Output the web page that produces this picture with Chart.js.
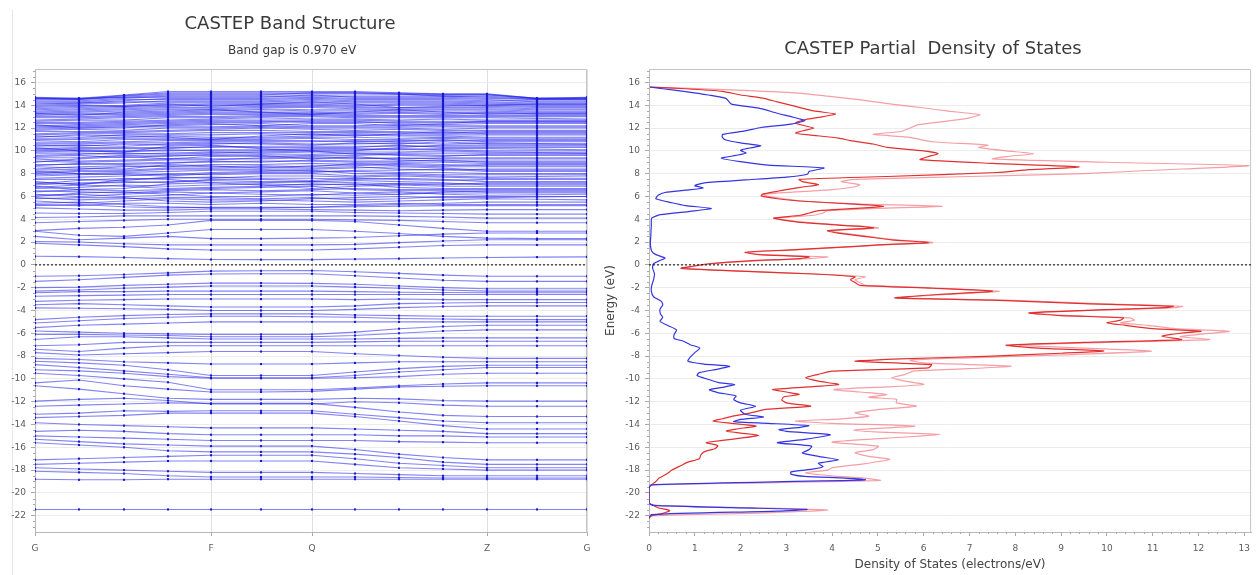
<!DOCTYPE html>
<html>
<head>
<meta charset="utf-8">
<script src="https://cdn.jsdelivr.net/npm/chart.js@4.4.0/dist/chart.umd.min.js"></script>
<style>
  html, body { margin: 0; padding: 0; background: #fff; }
  body { width: 1257px; height: 575px; position: relative; overflow: hidden; font-family: "DejaVu Sans", sans-serif; color: #3a3a3a; }
  canvas { position: absolute; top: 0; }
  #bands { left: 0; }
  #dos { left: 600px; }
  .ttl { position: absolute; transform: translate(-50%, -50%); white-space: pre; }
  .frame { position: absolute; left: 12px; top: 10px; bottom: 0; border-left: 1px solid #e6e6e6; }
</style>
</head>
<body>
<div class="frame"></div>
<canvas id="bands" width="600" height="575"></canvas>
<canvas id="dos" width="657" height="575"></canvas>
<div class="ttl" style="left:290px;top:22px;font-size:18px;">CASTEP Band Structure</div>
<div class="ttl" style="left:292px;top:50px;font-size:12px;">Band gap is 0.970 eV</div>
<div class="ttl" style="left:933px;top:47px;font-size:18px;">CASTEP Partial  Density of States</div>
<script>
/* k-path and band energies (eV) */
const kPath = [0, 0.44, 0.89, 1.33, 1.76, 2.26, 2.77, 3.20, 3.64, 4.08, 4.52, 5.02, 5.52];
const kLabels = ['G', 'F', 'Q', 'Z', 'G'];
const kLabelPos = [0, 1.76, 2.77, 4.52, 5.52];
const energyTicks = [-22, -20, -18, -16, -14, -12, -10, -8, -6, -4, -2, 0, 2, 4, 6, 8, 10, 12, 14, 16];
const dosTicks = [0, 1, 2, 3, 4, 5, 6, 7, 8, 9, 10, 11, 12, 13];
const fermiLevel = 0;

const valenceBands = [
  [-1.0,-0.95,-0.85,-0.7,-0.55,-0.52,-0.5,-0.6,-0.75,-0.9,-1.0,-1.0,-1.0],
  [-1.45,-1.3,-1.1,-0.9,-0.8,-0.78,-0.78,-0.95,-1.15,-1.35,-1.45,-1.45,-1.45],
  [-2.0,-1.95,-1.8,-1.7,-1.6,-1.6,-1.62,-1.7,-1.85,-2.0,-2.1,-2.1,-2.1],
  [-2.3,-2.2,-2.05,-1.95,-1.85,-1.85,-1.85,-1.95,-2.05,-2.2,-2.3,-2.3,-2.3],
  [-2.45,-2.35,-2.35,-2.3,-2.3,-2.3,-2.3,-2.35,-2.4,-2.42,-2.45,-2.45,-2.45],
  [-2.75,-2.7,-2.65,-2.6,-2.6,-2.6,-2.6,-2.6,-2.6,-2.6,-2.6,-2.6,-2.6],
  [-3.2,-3.1,-3.05,-3.0,-3.0,-3.0,-3.0,-3.05,-3.0,-3.05,-3.05,-3.05,-3.05],
  [-3.5,-3.4,-3.5,-3.6,-3.7,-3.7,-3.7,-3.6,-3.4,-3.35,-3.3,-3.3,-3.3],
  [-3.77,-3.8,-3.85,-3.9,-4.0,-4.0,-4.0,-3.9,-3.75,-3.65,-3.6,-3.6,-3.6],
  [-4.8,-4.6,-4.45,-4.35,-4.3,-4.3,-4.3,-4.4,-4.45,-4.5,-4.5,-4.5,-4.5],
  [-5.1,-4.9,-4.7,-4.6,-4.5,-4.5,-4.55,-4.6,-4.7,-4.75,-4.8,-4.8,-4.8],
  [-5.5,-5.3,-5.2,-5.1,-5.0,-5.0,-5.0,-5.0,-5.0,-5.0,-5.0,-5.0,-5.0],
  [-5.8,-5.9,-6.0,-6.05,-6.1,-6.1,-6.1,-5.9,-5.6,-5.4,-5.3,-5.3,-5.3],
  [-6.1,-6.1,-6.15,-6.2,-6.3,-6.3,-6.3,-6.2,-6.0,-5.8,-5.7,-5.7,-5.7],
  [-6.55,-6.3,-6.3,-6.4,-6.5,-6.5,-6.5,-6.5,-6.45,-6.4,-6.4,-6.4,-6.4],
  [-7.1,-7.0,-6.8,-6.8,-6.8,-6.8,-6.8,-6.75,-6.7,-6.7,-6.7,-6.7,-6.7],
  [-7.4,-7.6,-7.3,-7.1,-7.1,-7.1,-7.1,-7.1,-7.1,-7.1,-7.1,-7.1,-7.1],
  [-7.7,-7.9,-7.8,-7.7,-7.6,-7.6,-7.6,-7.8,-7.95,-8.1,-8.2,-8.2,-8.2],
  [-8.2,-8.3,-8.5,-8.6,-8.7,-8.7,-8.7,-8.6,-8.5,-8.5,-8.5,-8.5,-8.5],
  [-8.45,-8.6,-8.8,-9.2,-9.7,-9.7,-9.7,-9.4,-9.1,-8.9,-8.8,-8.8,-8.8],
  [-8.75,-9.0,-9.3,-9.6,-9.9,-9.9,-9.9,-9.7,-9.4,-9.2,-9.0,-9.0,-9.0],
  [-9.2,-9.3,-9.5,-9.8,-9.95,-9.95,-9.95,-9.9,-9.8,-9.6,-9.5,-9.5,-9.5],
  [-9.5,-9.7,-10.0,-10.3,-10.95,-10.95,-10.95,-10.8,-10.6,-10.45,-10.35,-10.35,-10.35],
  [-10.35,-10.1,-10.6,-10.9,-11.15,-11.15,-11.1,-10.9,-10.7,-10.65,-10.6,-10.6,-10.6],
  [-10.6,-10.9,-11.3,-11.7,-11.8,-11.8,-11.8,-11.7,-11.75,-11.9,-11.95,-11.95,-11.95],
  [-11.95,-11.8,-11.7,-11.9,-12.2,-12.2,-12.2,-12.0,-12.1,-12.3,-12.4,-12.4,-12.4],
  [-12.4,-12.3,-12.2,-12.1,-12.15,-12.15,-12.15,-12.5,-12.9,-13.2,-13.3,-13.3,-13.3],
  [-13.1,-13.0,-12.8,-12.85,-12.8,-12.8,-12.8,-13.1,-13.4,-13.7,-13.85,-13.85,-13.85],
  [-13.4,-13.3,-13.2,-13.0,-13.0,-13.0,-13.0,-13.3,-13.7,-14.1,-14.4,-14.4,-14.4],
  [-13.85,-14.0,-14.1,-14.2,-14.3,-14.3,-14.3,-14.4,-14.5,-14.6,-14.8,-14.8,-14.8],
  [-14.6,-14.5,-14.6,-14.8,-14.9,-14.9,-14.9,-14.9,-15.0,-15.0,-15.1,-15.1,-15.1],
  [-15.0,-15.1,-15.2,-15.3,-15.4,-15.4,-15.4,-15.4,-15.5,-15.55,-15.6,-15.6,-15.6],
  [-15.3,-15.5,-15.7,-15.8,-15.9,-15.9,-15.9,-16.2,-16.6,-16.9,-17.1,-17.1,-17.1],
  [-15.6,-15.8,-16.0,-16.3,-16.4,-16.4,-16.4,-16.6,-16.9,-17.3,-17.5,-17.5,-17.5],
  [-17.1,-17.0,-16.9,-16.8,-16.7,-16.7,-16.7,-17.0,-17.4,-17.6,-17.8,-17.8,-17.8],
  [-17.5,-17.4,-17.3,-17.2,-17.2,-17.2,-17.2,-17.5,-17.8,-17.9,-18.0,-18.0,-18.0],
  [-17.8,-17.9,-18.0,-18.1,-18.2,-18.2,-18.2,-18.3,-18.4,-18.5,-18.5,-18.5,-18.5],
  [-18.1,-18.2,-18.3,-18.5,-18.6,-18.6,-18.6,-18.6,-18.65,-18.7,-18.7,-18.7,-18.7],
  [-18.8,-18.85,-18.85,-18.8,-18.8,-18.8,-18.8,-18.8,-18.8,-18.8,-18.8,-18.8,-18.8],
  [-21.45,-21.45,-21.45,-21.45,-21.45,-21.45,-21.45,-21.45,-21.45,-21.45,-21.45,-21.45,-21.45]
];

const conductionBands = [
  [0.75,0.72,0.65,0.55,0.47,0.46,0.46,0.5,0.55,0.6,0.65,0.68,0.7],
  [1.9,1.75,1.6,1.4,1.3,1.3,1.3,1.4,1.55,1.7,1.75,1.75,1.75],
  [2.05,2.0,1.85,1.75,1.75,1.75,1.75,1.8,1.95,2.1,2.2,2.2,2.2],
  [2.5,2.2,2.35,2.5,2.3,2.3,2.35,2.4,2.55,2.7,2.8,2.8,2.8],
  [2.95,2.6,2.5,2.8,3.1,3.1,3.1,2.95,2.75,2.5,2.35,2.3,2.3],
  [3.0,3.2,3.3,3.5,3.9,3.9,3.9,3.8,3.5,3.2,2.95,2.95,2.95],
  [3.7,3.8,3.9,4.0,4.0,4.0,4.0,3.95,3.9,3.8,3.7,3.7,3.7],
  [4.15,4.2,4.3,4.3,4.3,4.3,4.3,4.3,4.25,4.2,4.1,4.1,4.1],
  [4.55,4.5,4.5,4.6,4.7,4.7,4.7,4.6,4.55,4.5,4.45,4.45,4.45],
  [5.0,4.9,4.8,4.8,4.9,4.9,4.85,4.8,4.75,4.8,4.85,4.85,4.85],
  [5.2,5.3,5.1,5.0,5.05,5.05,5.05,5.1,5.15,5.2,5.2,5.2,5.2],
  [5.3,5.2,5.4,5.4,5.3,5.4,5.3,5.3,5.4,5.3,5.3,5.3,5.3],
  [5.4,5.5,5.3,5.1,5.0,5.0,5.05,5.2,5.3,5.4,5.5,5.5,5.5],
  [5.6,5.4,5.6,5.8,5.7,5.7,5.6,5.5,5.6,5.7,5.8,5.75,5.7],
  [5.8,5.9,5.9,5.6,5.5,5.6,5.8,5.9,6.0,5.9,5.9,5.95,6.0],
  [5.9,5.7,5.8,5.9,5.9,5.8,5.9,5.7,5.8,6.0,6.0,6.0,6.0],
  [6.0,6.3,6.4,6.2,6.0,6.0,6.2,6.1,6.2,6.4,6.5,6.5,6.5],
  [6.1,6.2,6.0,6.1,6.3,6.4,6.5,6.3,6.2,6.3,6.3,6.3,6.3],
  [6.2,6.0,6.2,6.4,6.3,6.2,6.1,6.3,6.4,6.2,6.1,6.15,6.2],
  [6.4,6.6,6.5,6.6,6.7,6.8,6.9,6.6,6.5,6.5,6.4,6.4,6.4],
  [6.5,6.4,6.3,6.5,6.6,6.5,6.6,6.7,6.6,6.6,6.6,6.6,6.6],
  [6.7,6.8,7.0,6.9,7.0,7.1,7.0,7.1,6.8,6.7,6.7,6.7,6.7],
  [6.8,7.0,6.9,6.7,6.8,6.9,7.1,7.0,7.1,7.1,7.1,7.1,7.1],
  [6.9,6.6,6.7,7.1,7.2,7.0,6.7,6.9,7.0,6.9,6.9,6.9,6.9],
  [7.0,7.2,7.2,7.3,7.4,7.3,7.3,7.4,7.3,7.2,7.0,7.0,7.0],
  [7.1,7.4,7.6,7.5,7.2,7.2,7.3,7.2,7.1,7.0,7.2,7.2,7.2],
  [7.2,7.1,7.3,7.2,7.5,7.5,7.4,7.6,7.5,7.4,7.5,7.5,7.5],
  [7.3,7.0,7.5,7.6,7.7,7.6,7.6,7.5,7.6,7.5,7.3,7.3,7.3],
  [7.5,7.5,7.4,7.7,7.6,7.8,7.8,7.7,7.8,7.7,7.6,7.6,7.6],
  [7.6,7.7,7.8,8.0,7.9,8.0,8.0,7.8,7.9,7.8,7.7,7.75,7.8],
  [7.8,7.9,8.0,7.9,8.1,8.2,8.3,8.0,8.0,7.9,7.9,7.9,7.9],
  [7.9,8.0,8.1,8.2,8.3,8.3,8.2,8.2,8.1,8.1,8.0,8.0,8.0],
  [8.0,8.2,8.2,8.4,8.4,8.4,8.4,8.5,8.6,8.5,8.3,8.3,8.3],
  [8.1,8.3,8.3,8.5,8.5,8.6,8.5,8.6,8.4,8.3,8.4,8.4,8.4],
  [8.2,8.0,7.9,7.8,8.0,8.1,8.1,8.3,8.3,8.4,8.2,8.2,8.2],
  [8.3,8.4,8.6,8.7,8.6,8.7,8.6,8.9,8.8,8.7,8.8,8.8,8.8],
  [8.4,8.6,8.7,8.6,8.8,8.8,8.9,8.8,8.7,8.6,8.6,8.6,8.6],
  [8.6,8.5,8.4,8.8,8.7,8.5,8.7,8.7,8.9,8.8,8.7,8.7,8.7],
  [8.7,8.9,8.8,8.9,9.1,9.0,9.2,9.1,9.1,9.2,9.0,9.0,9.0],
  [8.8,8.8,8.9,9.0,9.0,9.1,9.1,9.0,9.0,9.0,8.9,8.9,8.9],
  [9.0,9.3,9.5,9.3,9.5,9.6,9.3,9.5,9.2,9.1,9.1,9.1,9.1],
  [9.1,9.0,9.1,9.2,9.2,9.4,9.5,9.4,9.3,9.4,9.4,9.4,9.4],
  [9.3,9.1,9.2,9.3,9.3,9.3,9.4,9.3,9.4,9.3,9.3,9.3,9.3],
  [9.4,9.4,9.6,9.5,9.7,9.7,9.7,9.8,9.6,9.5,9.7,9.7,9.7],
  [9.5,9.6,9.4,9.6,9.6,9.5,9.6,9.6,9.7,9.6,9.6,9.6,9.6],
  [9.6,9.7,9.8,9.7,9.8,9.9,10.0,9.7,9.8,9.8,9.8,9.8,9.8],
  [9.8,9.8,9.7,9.8,9.9,9.8,9.9,9.9,9.9,10.0,9.9,9.85,9.8],
  [9.9,10.0,9.9,10.1,10.0,10.0,10.1,10.1,10.2,10.1,10.0,10.0,10.0],
  [10.0,10.1,10.0,10.0,10.1,10.1,10.2,10.2,10.1,10.2,10.2,10.15,10.1],
  [10.1,10.2,10.2,10.2,10.4,10.3,10.3,10.3,10.5,10.3,10.3,10.3,10.3],
  [10.2,10.3,10.3,10.3,10.3,10.4,10.4,10.4,10.4,10.4,10.4,10.4,10.4],
  [10.3,10.0,9.9,10.4,10.5,10.2,10.0,10.0,10.3,10.5,10.5,10.5,10.5],
  [10.4,10.5,10.4,10.6,10.7,10.6,10.5,10.7,10.6,10.8,10.6,10.6,10.6],
  [10.5,10.4,10.6,10.5,10.6,10.7,10.6,10.6,10.7,10.6,10.7,10.65,10.6],
  [10.6,10.6,10.7,10.7,10.8,10.8,10.8,10.9,10.8,11.0,10.8,10.8,10.8],
  [10.7,10.7,10.8,10.9,10.9,10.9,10.9,10.8,10.9,10.9,10.9,10.9,10.9],
  [10.9,10.8,11.0,11.0,11.0,11.0,11.1,11.0,11.0,11.1,11.0,11.0,11.0],
  [11.0,11.0,11.1,11.1,11.1,11.1,11.2,11.2,11.1,11.2,11.1,11.1,11.1],
  [11.1,11.1,11.2,11.3,11.2,11.2,11.3,11.4,11.3,11.3,11.2,11.2,11.2],
  [11.2,11.4,11.3,11.2,11.0,11.3,11.5,11.3,11.5,11.7,11.5,11.5,11.5],
  [11.3,11.2,11.4,11.4,11.4,11.5,11.4,11.5,11.4,11.4,11.4,11.4,11.4],
  [11.4,11.5,11.5,11.5,11.6,11.6,11.6,11.6,11.6,11.5,11.6,11.6,11.6],
  [11.5,11.6,11.6,11.7,11.8,11.8,11.7,11.7,11.7,11.6,11.7,11.7,11.7],
  [11.7,11.7,11.7,11.8,11.9,12.0,11.9,11.8,11.9,11.8,11.8,11.8,11.8],
  [11.8,11.9,11.8,12.0,12.0,12.1,12.0,12.0,12.0,11.9,12.0,12.0,12.0],
  [11.9,12.0,12.1,12.1,12.1,12.2,12.1,12.1,12.1,12.1,12.1,12.1,12.1],
  [12.0,12.1,12.2,12.2,12.3,12.4,12.2,12.2,12.3,12.2,12.2,12.2,12.2],
  [12.1,12.2,12.3,12.4,12.5,12.5,12.6,12.6,12.4,12.3,12.4,12.4,12.4],
  [12.2,12.3,12.4,12.5,12.6,12.6,12.5,12.5,12.5,12.5,12.5,12.5,12.5],
  [12.3,12.0,12.0,12.3,12.4,12.2,12.4,12.4,12.2,12.4,12.6,12.6,12.6],
  [12.4,12.4,12.5,12.6,12.7,12.7,12.7,12.7,12.6,12.6,12.6,12.6,12.6],
  [12.5,12.5,12.6,12.7,12.8,12.9,12.8,12.8,12.7,12.8,12.7,12.7,12.7],
  [12.6,12.7,12.7,12.9,12.9,13.0,13.0,12.9,12.9,12.9,12.9,12.85,12.8],
  [12.7,12.8,12.9,13.0,13.0,13.1,13.1,13.0,13.0,13.0,13.0,13.0,13.0],
  [12.9,12.9,13.0,13.1,13.2,13.2,13.2,13.1,13.1,13.1,13.1,13.1,13.1],
  [13.0,13.0,13.1,13.2,13.3,13.3,13.3,13.2,13.3,13.2,13.3,13.2,13.2],
  [13.1,13.2,13.2,13.3,13.4,13.4,13.4,13.3,13.4,13.3,13.4,13.3,13.3],
  [13.2,13.3,13.3,13.4,13.5,13.6,13.5,13.5,13.5,13.5,13.5,13.4,13.4],
  [13.3,13.1,13.4,13.5,13.6,13.4,13.2,13.4,13.6,13.4,13.2,13.3,13.3],
  [13.3,13.4,13.5,13.6,13.6,13.7,13.6,13.6,13.6,13.6,13.6,13.5,13.5],
  [13.4,13.5,13.6,13.7,13.7,13.8,13.8,13.7,13.7,13.7,13.7,13.6,13.6],
  [13.5,13.6,13.7,13.8,13.8,13.9,13.9,13.8,13.8,13.8,13.8,13.7,13.7],
  [13.6,13.7,13.8,13.9,14.0,14.0,14.0,13.9,14.0,14.0,13.9,13.8,13.8],
  [13.7,13.8,13.9,14.0,14.1,14.1,14.1,14.0,14.1,14.1,14.0,13.9,13.9],
  [13.8,13.9,14.0,14.2,14.2,14.2,14.2,14.2,14.2,14.2,14.1,14.0,14.0],
  [13.9,14.0,13.9,14.1,13.9,14.1,14.3,14.1,13.8,13.9,14.0,14.1,14.1],
  [14.0,14.1,14.2,14.4,14.4,14.4,14.5,14.4,14.4,14.4,14.3,14.2,14.2],
  [14.1,14.2,14.3,14.3,14.3,14.3,14.4,14.3,14.3,14.3,14.2,14.1,14.1],
  [14.2,14.2,14.4,14.6,14.6,14.6,14.7,14.6,14.6,14.6,14.5,14.3,14.3],
  [14.3,14.3,14.5,14.5,14.5,14.5,14.6,14.5,14.5,14.5,14.4,14.4,14.4],
  [14.4,14.4,14.6,14.8,14.8,14.8,14.8,14.8,14.8,14.8,14.7,14.5,14.5],
  [14.5,14.5,14.7,14.7,14.7,14.7,14.9,14.7,14.7,14.7,14.6,14.5,14.5],
  [14.6,14.5,14.8,15.0,15.0,15.0,15.0,15.0,14.95,14.9,14.9,14.6,14.6],
  [14.6,14.6,14.7,14.9,14.9,14.9,15.1,15.1,15.0,14.8,14.8,14.55,14.6],
  [14.65,14.55,14.85,15.1,15.1,15.1,15.1,15.1,15.05,14.95,14.95,14.6,14.65],
  [14.7,14.6,14.9,15.2,15.2,15.2,15.2,15.2,15.1,15.0,15.0,14.6,14.7]
];

/* partial DOS: [energy eV, electrons/eV] */
const dosS = [
  [-22.2,0],[-21.9,0.05],[-21.6,2.8],[-21.45,3.45],[-21.3,1.8],[-21.1,0.1],[-20.9,0],[-19.6,0],
  [-19.3,0.05],[-19.05,2.5],[-18.85,4.72],[-18.7,4.3],[-18.55,3.4],[-18.35,3.1],[-18.15,3.1],
  [-17.9,3.6],[-17.7,3.8],[-17.4,3.7],[-17.1,4.14],[-16.8,3.7],[-16.5,3.35],[-16.2,3.5],[-15.9,3.55],
  [-15.6,2.8],[-15.3,3.4],[-14.9,3.96],[-14.6,3.0],[-14.45,2.84],[-14.25,3.3],[-14.1,3.49],[-13.9,2.6],
  [-13.75,1.85],[-13.55,2.0],[-13.35,2.5],[-13.1,2.1],[-12.75,2.0],[-12.4,2.33],[-12.1,2.0],[-11.8,1.85],
  [-11.5,1.9],[-11.2,1.5],[-10.95,1.32],[-10.75,1.6],[-10.5,1.87],[-10.3,1.5],[-10.05,1.3],[-9.7,1.05],
  [-9.45,1.1],[-9.15,1.5],[-8.9,1.76],[-8.7,1.2],[-8.45,0.85],[-8.1,0.9],[-7.7,1.0],[-7.3,1.11],
  [-7.0,0.9],[-6.7,0.75],[-6.45,0.55],[-6.1,0.55],[-5.7,0.6],[-5.3,0.4],[-4.95,0.24],[-4.6,0.3],
  [-4.3,0.25],[-3.9,0.24],[-3.5,0.3],[-3.2,0.27],[-2.8,0.1],[-2.3,0.05],[-1.8,0.06],[-1.3,0.1],
  [-0.8,0.12],[-0.3,0.08],[0.1,0.1],[0.4,0.25],[0.6,0.35],[0.9,0.15],[1.2,0.06],[1.8,0.03],
  [2.6,0.04],[3.5,0.05],[4.1,0.06],[4.4,0.25],[4.7,0.9],[4.95,1.36],[5.2,0.8],[5.45,0.5],
  [5.8,0.15],[6.1,0.2],[6.35,0.35],[6.55,0.8],[6.75,1.18],[6.95,1.0],[7.2,1.21],[7.45,2.1],
  [7.7,3.0],[7.95,3.46],[8.2,3.5],[8.5,3.82],[8.75,2.6],[9.05,2.0],[9.35,1.58],[9.6,1.9],
  [9.8,2.12],[10.05,2.0],[10.25,2.2],[10.45,2.44],[10.7,2.0],[10.95,1.68],[11.2,1.6],[11.45,1.61],
  [11.75,2.1],[12.05,2.45],[12.35,3.1],[12.65,3.4],[12.95,3.15],[13.3,2.8],[13.75,2.4],[14.1,1.8],
  [14.6,1.68],[14.9,1.3],[15.2,0.8],[15.45,0.3],[15.6,0.02]
];

const dosP = [
  [-22.2,0],[-22.0,0.05],[-21.8,0.3],[-21.55,0.45],[-21.3,0.2],[-21.0,0.05],[-20.9,0],[-19.5,0],
  [-19.3,0.05],[-19.0,0.15],[-18.7,0.22],[-18.3,0.4],[-18.0,0.5],[-17.6,0.7],[-17.3,0.85],[-17.0,1.1],
  [-16.7,1.13],[-16.4,1.2],[-16.1,1.45],[-15.85,1.5],[-15.6,1.25],[-15.4,1.6],[-15.2,2.0],[-14.96,2.4],
  [-14.75,2.0],[-14.58,1.69],[-14.4,1.9],[-14.14,2.34],[-13.9,1.8],[-13.7,1.4],[-13.5,1.6],[-13.27,1.83],
  [-13.0,2.2],[-12.68,2.55],[-12.39,3.53],[-12.1,3.0],[-11.85,2.9],[-11.57,2.95],[-11.37,3.28],[-11.15,3.0],
  [-10.93,2.7],[-10.7,3.5],[-10.49,4.14],[-10.2,3.7],[-9.91,3.42],[-9.6,3.7],[-9.32,4.0],[-9.03,6.1],
  [-8.75,6.17],[-8.45,4.5],[-8.25,5.5],[-8.0,7.5],[-7.75,9.0],[-7.55,9.93],[-7.3,8.5],[-7.04,7.8],
  [-6.8,9.5],[-6.55,11.63],[-6.26,11.2],[-6.0,11.6],[-5.82,12.06],[-5.6,11.0],[-5.3,10.4],[-5.09,10.0],
  [-4.85,10.3],[-4.65,10.36],[-4.45,9.0],[-4.21,8.3],[-3.95,9.8],[-3.75,11.3],[-3.63,11.45],[-3.4,9.5],
  [-3.1,7.5],[-2.9,5.37],[-2.6,6.3],[-2.31,7.5],[-2.05,6.2],[-1.8,4.6],[-1.55,4.5],[-1.3,4.4],
  [-1.05,4.5],[-0.8,3.6],[-0.55,2.0],[-0.3,0.7],[-0.15,0.9],[0.1,1.3],[0.35,2.2],[0.55,3.3],
  [0.7,3.5],[0.9,2.4],[1.1,2.1],[1.3,3.0],[1.55,4.2],[1.75,5.0],[1.95,6.1],[2.2,5.3],
  [2.5,4.7],[2.8,4.1],[3.0,3.9],[3.25,4.9],[3.45,4.3],[3.7,3.4],[3.95,2.9],[4.1,2.72],
  [4.35,3.3],[4.55,3.5],[4.75,3.7],[4.95,4.5],[5.14,5.12],[5.35,4.4],[5.6,3.3],[5.8,2.8],
  [6.05,2.45],[6.2,2.48],[6.45,2.8],[6.6,3.0],[6.85,3.4],[7.04,3.7],[7.3,3.35],[7.5,3.28],
  [7.75,5.2],[8.1,7.6],[8.35,8.3],[8.6,9.39],[8.9,7.5],[9.23,5.92],[9.5,6.1],[9.75,6.31],
  [10.0,6.0],[10.3,5.2],[10.6,4.9],[10.9,4.4],[11.12,4.14],[11.4,3.5],[11.56,3.2],[11.8,3.4],
  [12.0,3.6],[12.2,3.4],[12.44,3.2],[12.74,3.42],[13.0,3.8],[13.23,4.07],[13.5,3.6],[13.9,3.2],
  [14.3,2.8],[14.63,2.48],[14.9,2.0],[15.22,1.6],[15.45,0.8],[15.6,0.02]
];

const dosTotal = [
  [-22.2,0],[-22.0,0.1],[-21.75,2.5],[-21.5,3.9],[-21.3,2.2],[-21.1,0.2],[-20.9,0],[-19.5,0],
  [-19.3,0.1],[-19.1,2.8],[-18.9,5.05],[-18.7,4.7],[-18.5,4.0],[-18.24,3.42],[-18.0,3.9],[-17.79,4.0],
  [-17.5,4.6],[-17.06,5.26],[-16.8,4.8],[-16.48,4.5],[-16.2,4.9],[-15.9,5.01],[-15.54,4.0],[-15.2,5.2],
  [-14.87,6.35],[-14.7,5.2],[-14.5,4.47],[-14.3,5.2],[-14.14,5.8],[-13.9,4.0],[-13.7,3.2],[-13.5,4.2],
  [-13.27,4.8],[-12.97,4.5],[-12.7,5.0],[-12.39,5.84],[-12.1,5.4],[-11.8,5.41],[-11.6,4.8],[-11.37,5.19],
  [-11.15,4.6],[-10.93,4.04],[-10.7,5.2],[-10.49,6.0],[-10.2,5.6],[-9.91,5.3],[-9.6,5.6],[-9.3,5.8],
  [-9.1,7.0],[-8.88,7.9],[-8.6,6.0],[-8.35,5.7],[-8.15,7.0],[-7.9,9.0],[-7.57,10.97],[-7.3,9.5],
  [-7.04,8.08],[-6.8,10.0],[-6.55,12.24],[-6.3,11.6],[-6.1,12.0],[-5.82,12.67],[-5.6,11.5],[-5.3,10.9],
  [-5.09,10.3],[-4.85,10.6],[-4.65,10.5],[-4.45,9.2],[-4.21,8.3],[-3.95,10.0],[-3.75,11.5],[-3.63,11.65],
  [-3.4,9.8],[-3.1,7.8],[-2.9,5.4],[-2.6,6.5],[-2.31,7.65],[-2.05,6.4],[-1.8,4.75],[-1.55,4.6],
  [-1.3,4.5],[-1.05,4.72],[-0.8,3.7],[-0.55,2.0],[-0.3,0.75],[-0.15,0.95],[0.1,1.4],[0.35,2.3],
  [0.55,3.5],[0.7,3.9],[0.9,2.5],[1.1,2.15],[1.3,3.1],[1.55,4.3],[1.75,5.1],[1.95,6.2],
  [2.2,5.4],[2.5,4.8],[2.8,4.2],[3.0,3.96],[3.25,5.01],[3.45,4.4],[3.7,3.5],[3.95,2.95],
  [4.1,2.75],[4.35,3.6],[4.55,3.8],[4.75,3.9],[4.95,5.0],[5.14,6.4],[5.35,4.5],[5.6,3.3],
  [5.8,2.95],[6.05,2.55],[6.2,2.5],[6.45,3.4],[6.6,4.0],[6.85,4.5],[7.04,4.6],[7.3,4.2],
  [7.5,4.5],[7.75,7.0],[8.0,9.5],[8.3,11.0],[8.7,13.1],[9.0,10.0],[9.3,7.5],[9.5,7.8],
  [9.75,8.4],[10.0,7.8],[10.3,7.2],[10.5,7.4],[10.8,6.2],[11.2,5.66],[11.45,4.9],[11.7,5.5],
  [12.0,5.7],[12.3,5.88],[12.6,6.5],[12.9,7.0],[13.17,7.22],[13.5,6.5],[13.76,6.02],[14.1,5.3],
  [14.5,4.58],[14.8,3.9],[15.07,3.28],[15.35,1.8],[15.6,0.02]
];

const E_MIN = -23.43, E_MAX = 17.18;
const K_MAX = 5.52, DOS_MAX = 13.15;
const FONT = '"DejaVu Sans", sans-serif';
const tickFont = { family: FONT, size: 9 };

/* frame on top/right + minor ticks */
const axisExtras = {
  id: 'axisExtras',
  beforeDatasetsDraw(chart, args, opts) {
    const { ctx, chartArea: a, scales } = chart;
    ctx.save();
    ctx.strokeStyle = '#c4c4c4';
    ctx.lineWidth = 1;
    ctx.beginPath();
    ctx.moveTo(a.left, a.top + 0.5); ctx.lineTo(a.right - 0.5, a.top + 0.5); ctx.lineTo(a.right - 0.5, a.bottom);
    ctx.stroke();
    ctx.strokeStyle = '#a8a8a8';
    ctx.beginPath();
    for (let v = -23; v <= 17; v += 0.5) {
      if (v % 2 === 0) continue;
      const y = Math.round(scales.y.getPixelForValue(v)) + 0.5;
      ctx.moveTo(a.left - 2, y); ctx.lineTo(a.left, y);
    }
    if (opts.xMinor) {
      for (let v = 0; v <= DOS_MAX; v += opts.xMinor) {
        if (Math.abs(v - Math.round(v)) < 1e-6) continue;
        const x = Math.round(scales.x.getPixelForValue(v)) + 0.5;
        ctx.moveTo(x, a.bottom); ctx.lineTo(x, a.bottom + 2);
      }
    }
    ctx.stroke();
    ctx.restore();
  }
};

function energyAxis(width, withTitle) {
  return {
    type: 'linear', min: E_MIN, max: E_MAX,
    afterBuildTicks: s => { s.ticks = energyTicks.map(v => ({ value: v })); },
    afterFit: s => { s.width = width; },
    ticks: { font: tickFont, color: '#5c5c5c', padding: 5, autoSkip: false, callback: v => String(v) },
    grid: { color: '#ececec', tickColor: '#a8a8a8', tickLength: 4 },
    border: { color: '#b8b8b8' },
    title: { display: withTitle, text: 'Energy (eV)', color: '#444', font: { family: FONT, size: 12 }, padding: { top: 4, bottom: 4 } }
  };
}

function fermiSet(xMax) {
  return {
    data: [{ x: 0, y: fermiLevel }, { x: xMax, y: fermiLevel }],
    borderColor: '#000', borderWidth: 1, borderDash: [2, 2], pointRadius: 0, showLine: true
  };
}

const bandSets = valenceBands.concat(conductionBands).map(b => ({
  data: b.map((e, i) => ({ x: kPath[i], y: e })),
  borderColor: 'rgba(30,30,235,0.55)', borderWidth: 1.1, showLine: true, tension: 0,
  pointStyle: 'rect', pointRadius: 1.5, pointBackgroundColor: '#1a1ad0', pointBorderWidth: 0
}));

new Chart(document.getElementById('bands'), {
  type: 'scatter',
  data: { datasets: [fermiSet(K_MAX)].concat(bandSets) },
  options: {
    responsive: false, animation: false, events: [],
    layout: { padding: { top: 69, right: 13, left: 0, bottom: 0 } },
    plugins: { legend: { display: false }, tooltip: { enabled: false }, axisExtras: {} },
    scales: {
      x: {
        type: 'linear', min: 0, max: K_MAX,
        afterBuildTicks: s => { s.ticks = kLabelPos.map(v => ({ value: v })); },
        afterFit: s => { s.height = 43; },
        ticks: { font: tickFont, color: '#5c5c5c', padding: 7, autoSkip: false, maxRotation: 0,
          callback: (v, i) => kLabels[i] },
        grid: { color: '#dedede', tickColor: '#a8a8a8', tickLength: 4 },
        border: { color: '#b8b8b8' }
      },
      y: energyAxis(35, false)
    }
  },
  plugins: [axisExtras]
});

const dosLine = (pts, color) => ({
  data: pts.map(([e, d]) => ({ x: d, y: e })),
  borderColor: color, borderWidth: 1.2, showLine: true, tension: 0.2, pointRadius: 0
});

new Chart(document.getElementById('dos'), {
  type: 'scatter',
  data: {
    datasets: [
      fermiSet(DOS_MAX),
      dosLine(dosS, '#3434e2'),
      dosLine(dosP, '#e23030'),
      dosLine(dosTotal, 'rgba(240,125,135,0.75)')
    ]
  },
  options: {
    responsive: false, animation: false, events: [],
    layout: { padding: { top: 69, right: 2, left: 0, bottom: 0 } },
    plugins: { legend: { display: false }, tooltip: { enabled: false }, axisExtras: { xMinor: 0.2 } },
    scales: {
      x: {
        type: 'linear', min: 0, max: DOS_MAX,
        afterBuildTicks: s => { s.ticks = dosTicks.map(v => ({ value: v })); },
        afterFit: s => { s.height = 43; },
        ticks: { font: tickFont, color: '#5c5c5c', padding: 7, autoSkip: false, maxRotation: 0 },
        grid: { drawOnChartArea: false, tickColor: '#a8a8a8', tickLength: 4 },
        border: { color: '#b8b8b8' },
        title: { display: true, text: 'Density of States (electrons/eV)', color: '#444',
          font: { family: FONT, size: 12 }, padding: { top: 0, bottom: 3 } }
      },
      y: energyAxis(49, true)
    }
  },
  plugins: [axisExtras]
});
</script>
</body>
</html>
